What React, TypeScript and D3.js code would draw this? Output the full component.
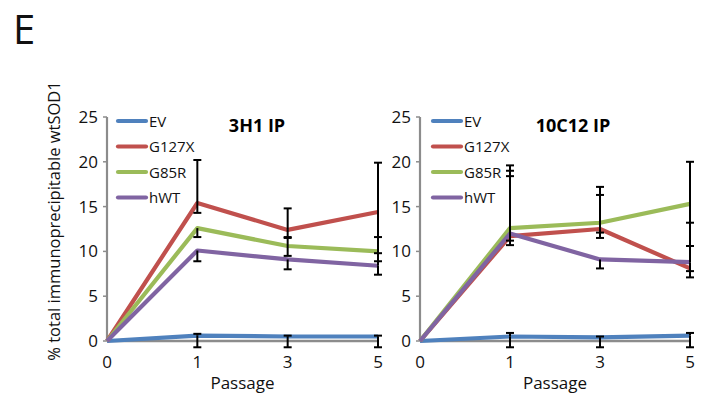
import React from "react";
import * as d3 from "d3";

const passages = ["0", "1", "3", "5"];
const yTicks = [0, 5, 10, 15, 20, 25];
const seriesNames = ["EV", "G127X", "G85R", "hWT"];
const seriesColors = ["#4F81BD", "#C0504D", "#9BBB59", "#8064A2"];

// Panel 1: 3H1 IP
const ev3H1 = [0, 0.6, 0.5, 0.5];
const g127x3H1 = [0, 15.4, 12.4, 14.4];
const g85r3H1 = [0, 12.6, 10.6, 10.0];
const hwt3H1 = [0, 10.1, 9.1, 8.4];
const evUp3H1 = [0, 0.2, 0.1, 0.1];
const evDown3H1 = [0, 1.3, 1.2, 1.2];
const g127xUp3H1 = [0, 4.8, 2.4, 5.5];
const g127xDown3H1 = [0, 1.1, 0.8, 5.5];
const g85rUp3H1 = [0, 0, 0.9, 1.6];
const g85rDown3H1 = [0, 1.0, 1.1, 0];
const hwtUp3H1 = [0, 0, 0, 1.4];
const hwtDown3H1 = [0, 1.2, 1.1, 1.0];

// Panel 2: 10C12 IP
const ev10C12 = [0, 0.5, 0.4, 0.6];
const g127x10C12 = [0, 11.7, 12.5, 8.1];
const g85r10C12 = [0, 12.6, 13.2, 15.3];
const hwt10C12 = [0, 12.0, 9.1, 8.8];
const evUp10C12 = [0, 0.4, 0.1, 0.3];
const evDown10C12 = [0, 1.2, 1.1, 1.3];
const g127xUp10C12 = [0, 7.3, 3.8, 0];
const g127xDown10C12 = [0, 1.0, 1.0, 1.0];
const g85rUp10C12 = [0, 7.0, 4.0, 4.7];
const g85rDown10C12 = [0, 0, 1.1, 4.7];
const hwtUp10C12 = [0, 6.4, 0, 4.4];
const hwtDown10C12 = [0, 0.8, 1.0, 1.0];

const FONT = "'Open Sans', 'Noto Sans', sans-serif";

type Series = { name: string; color: string; values: number[]; up: number[]; down: number[] };

function Panel({ title, series, x0, x1, titleX, legendX }: { title: string; series: Series[]; x0: number; x1: number; titleX: number; legendX: number }) {
  const x = d3.scalePoint<string>().domain(passages).range([x0, x1]);
  const y = d3.scaleLinear().domain([0, 25]).range([341, 117]);
  const line = d3
    .line<number>()
    .x((_, i) => x(passages[i]) as number)
    .y((v) => y(v));
  const axisColor = "#8c8c8c";
  return (
    <g>
      <line x1={x0} x2={x0} y1={y(25)} y2={y(0)} stroke={axisColor} strokeWidth={2.2} />
      {yTicks.map((t) => (
        <g key={t}>
          <line x1={x0 - 4} x2={x0} y1={y(t)} y2={y(t)} stroke={axisColor} strokeWidth={1.5} />
          <text x={x0 - 9} y={y(t) + 6} textAnchor="end" fontSize={17} fontFamily={FONT} fill="#111">
            {t}
          </text>
        </g>
      ))}
      <line x1={x0} x2={x1} y1={y(0)} y2={y(0)} stroke={axisColor} strokeWidth={2.5} />
      {passages.map((p) => (
        <text key={p} x={x(p) as number} y={368} textAnchor="middle" fontSize={17} fontFamily={FONT} fill="#111">
          {p}
        </text>
      ))}
      <text x={(x0 + x1) / 2} y={389} textAnchor="middle" fontSize={17} fontFamily={FONT} fill="#111">
        Passage
      </text>
      {series.map((s) => (
        <path key={s.name} d={line(s.values) as string} fill="none" stroke={s.color} strokeWidth={4.2} strokeLinejoin="round" />
      ))}
      {series.map((s) =>
        s.values.map((v, i) => {
          const cx = x(passages[i]) as number;
          const els: React.ReactNode[] = [];
          if (s.up[i] > 0) {
            els.push(<line key="u" x1={cx} x2={cx} y1={y(v)} y2={y(v + s.up[i])} stroke="#000" strokeWidth={2} />);
            els.push(<line key="uc" x1={cx - 4} x2={cx + 4} y1={y(v + s.up[i])} y2={y(v + s.up[i])} stroke="#000" strokeWidth={2} />);
          }
          if (s.down[i] > 0) {
            els.push(<line key="d" x1={cx} x2={cx} y1={y(v)} y2={y(v - s.down[i])} stroke="#000" strokeWidth={2} />);
            els.push(<line key="dc" x1={cx - 4} x2={cx + 4} y1={y(v - s.down[i])} y2={y(v - s.down[i])} stroke="#000" strokeWidth={2} />);
          }
          return <g key={s.name + i}>{els}</g>;
        })
      )}
      {series.map((s, i) => (
        <g key={s.name}>
          <line x1={legendX} x2={legendX + 28} y1={121 + i * 25.5} y2={121 + i * 25.5} stroke={s.color} strokeWidth={4.2} strokeLinecap="round" />
          <text x={legendX + 31} y={121 + i * 25.5 + 5.5} fontSize={15} fontFamily={FONT} fill="#111">
            {s.name}
          </text>
        </g>
      ))}
      <text x={titleX} y={132} textAnchor="middle" fontSize={18} fontWeight="bold" fontFamily={FONT} fill="#000">
        {title}
      </text>
    </g>
  );
}

export default function App() {
  const s1: Series[] = [
    { name: seriesNames[0], color: seriesColors[0], values: ev3H1, up: evUp3H1, down: evDown3H1 },
    { name: seriesNames[1], color: seriesColors[1], values: g127x3H1, up: g127xUp3H1, down: g127xDown3H1 },
    { name: seriesNames[2], color: seriesColors[2], values: g85r3H1, up: g85rUp3H1, down: g85rDown3H1 },
    { name: seriesNames[3], color: seriesColors[3], values: hwt3H1, up: hwtUp3H1, down: hwtDown3H1 },
  ];
  const s2: Series[] = [
    { name: seriesNames[0], color: seriesColors[0], values: ev10C12, up: evUp10C12, down: evDown10C12 },
    { name: seriesNames[1], color: seriesColors[1], values: g127x10C12, up: g127xUp10C12, down: g127xDown10C12 },
    { name: seriesNames[2], color: seriesColors[2], values: g85r10C12, up: g85rUp10C12, down: g85rDown10C12 },
    { name: seriesNames[3], color: seriesColors[3], values: hwt10C12, up: hwtUp10C12, down: hwtDown10C12 },
  ];
  return (
    <svg width={709} height={398} style={{ position: "absolute", left: 0, top: 0, background: "#fff" }}>
      <rect width={709} height={398} fill="#fff" />
      <text x={13} y={44} fontSize={40} fontFamily={FONT} fill="#111">
        E
      </text>
      <text transform="translate(60,221) rotate(-90)" textAnchor="middle" fontSize={16.5} fontFamily={FONT} fill="#111">
        % total immunoprecipitable wtSOD1
      </text>
      <Panel title="3H1 IP" series={s1} x0={107} x1={378} titleX={257} legendX={118} />
      <Panel title="10C12 IP" series={s2} x0={420} x1={690} titleX={573} legendX={433} />
    </svg>
  );
}
